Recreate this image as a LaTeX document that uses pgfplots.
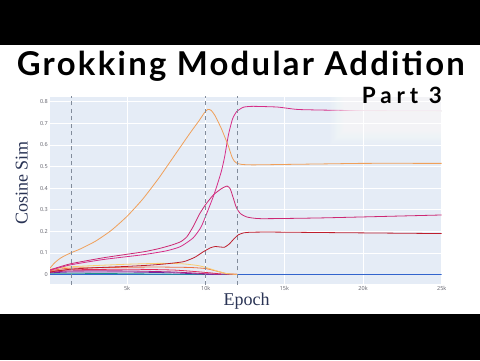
\documentclass[border=0pt]{standalone}
\usepackage{fontspec}
\usepackage{graphicx}
\setmainfont{Liberation Serif}
\newfontfamily\titlefont{Lato}[LetterSpace=7]
\newfontfamily\partfont{Lato}[LetterSpace=22]
\newfontfamily\tickfont{Open Sans}
\usepackage{pgfplots}
\pgfplotsset{compat=1.18}
\definecolor{plotbg}{RGB}{229,236,246}
\definecolor{axtitle}{RGB}{42,52,85}
\definecolor{tickgray}{RGB}{95,95,105}
\definecolor{dashgray}{RGB}{130,140,155}
\definecolor{corange}{RGB}{240,160,90}
\definecolor{cpinkA}{RGB}{214,45,135}
\definecolor{cpinkB}{RGB}{205,40,115}
\definecolor{cred}{RGB}{190,30,45}
\definecolor{cyellow}{RGB}{250,205,110}
\definecolor{corred}{RGB}{238,115,70}
\definecolor{ccrimson}{RGB}{222,45,90}
\definecolor{cmagenta}{RGB}{175,30,130}
\definecolor{cpurple}{RGB}{110,40,160}
\definecolor{cteal}{RGB}{30,150,140}
\definecolor{cblue}{RGB}{50,100,205}
\definecolor{ccyan}{RGB}{80,200,230}
\begin{document}
\begin{tikzpicture}[x=1pt,y=1pt]
\useasboundingbox (0,0) rectangle (480,360);
\fill[white] (0,0) rectangle (480,360);
\fill[black] (0,315) rectangle (480,360);
\fill[black] (0,0) rectangle (480,46);
\begin{axis}[
  at={(50pt,76pt)}, anchor=south west,
  scale only axis, width=391.7pt, height=187.3pt,
  xmin=100, xmax=25000, ymin=-0.0435, ymax=0.8236,
  axis background/.style={fill=plotbg},
  axis line style={draw=none},
  scaled x ticks=false, scaled y ticks=false,
  xtick={5000,10000,15000,20000,25000},
  xticklabels={5k,10k,15k,20k,25k},
  ytick={0,0.1,0.2,0.3,0.4,0.5,0.6,0.7,0.8},
  yticklabels={0,0.1,0.2,0.3,0.4,0.5,0.6,0.7,0.8},
  major tick length=0pt,
  grid=major, major grid style={white, line width=0.8pt},
  tick label style={font=\tickfont\fontsize{5.5}{6}\selectfont, text=tickgray},
  xticklabel style={inner sep=2.5pt},
  yticklabel style={inner sep=2pt},
  every axis plot/.append style={line width=0.8pt, smooth, tension=0.35, mark=none},
  clip=true,
]
\addplot[ccyan] coordinates {(100,0.001)(18000,0.001)};
\addplot[cblue] coordinates {(100,0.002)(25000,0.002)};
\addplot[cteal] coordinates {(100,0.006)(2000,0.006)(5000,0.004)(8000,0.002)(10000,0.001)};
\addplot[cpurple] coordinates {(100,0.008)(1400,0.012)(5000,0.012)(8000,0.008)(9500,0.003)(10500,0.001)};
\addplot[cmagenta] coordinates {(100,0.01)(1400,0.017)(5000,0.017)(8000,0.012)(10000,0.004)(11000,0.001)};
\addplot[ccrimson] coordinates {(100,0.015)(1400,0.022)(5000,0.025)(8000,0.021)(10000,0.01)(11000,0.003)(12000,0.001)};
\addplot[corred] coordinates {(100,0.018)(1400,0.03)(5000,0.034)(7000,0.035)(9000,0.033)(10000,0.028)(10700,0.016)(11300,0.005)(12000,0.001)};
\addplot[cyellow] coordinates {(100,0.025)(1400,0.036)(3000,0.042)(5000,0.048)(7000,0.052)(8500,0.05)(9500,0.042)(10100,0.031)(10700,0.017)(11300,0.005)(12000,0.001)};
\addplot[cred] coordinates {(100,0.012)(1400,0.025)(3000,0.032)(5000,0.038)(6500,0.044)(7500,0.05)(8600,0.06)(9300,0.08)(9850,0.106)(10300,0.124)(10600,0.13)(10900,0.128)(11200,0.127)(11500,0.142)(11800,0.166)(12070,0.184)(12400,0.193)(12800,0.196)(14000,0.197)(17000,0.195)(25000,0.19)};
\addplot[cpinkB] coordinates {(100,0.022)(1400,0.05)(3500,0.078)(6000,0.105)(7000,0.12)(7800,0.136)(8400,0.152)(8800,0.175)(9200,0.222)(9600,0.28)(10000,0.325)(10500,0.37)(11000,0.398)(11350,0.41)(11550,0.398)(11750,0.355)(11950,0.31)(12200,0.283)(12600,0.267)(13500,0.259)(17000,0.262)(20000,0.267)(25000,0.276)};
\addplot[cpinkA] coordinates {(100,0.02)(1400,0.045)(3500,0.07)(6000,0.092)(7500,0.11)(8400,0.13)(9200,0.17)(9700,0.22)(10100,0.29)(10500,0.365)(10750,0.42)(11000,0.48)(11200,0.545)(11440,0.646)(11700,0.72)(11970,0.755)(12400,0.775)(13000,0.779)(14500,0.776)(15200,0.77)(16000,0.764)(19000,0.76)(25000,0.758)};
\addplot[corange] coordinates {(100,0.03)(400,0.055)(800,0.078)(1400,0.1)(2000,0.118)(3000,0.155)(4000,0.205)(5000,0.27)(6000,0.35)(7000,0.445)(8000,0.55)(9000,0.655)(9600,0.715)(9900,0.748)(10130,0.765)(10350,0.76)(10600,0.735)(11000,0.675)(11250,0.63)(11440,0.595)(11650,0.548)(11800,0.527)(11970,0.516)(12300,0.51)(13000,0.508)(15000,0.51)(18000,0.513)(20000,0.515)(25000,0.515)};
\addplot[dashgray, line width=0.9pt, dash pattern=on 4pt off 3.5pt, sharp plot] coordinates {(1450,-0.05)(1450,0.83)};
\addplot[dashgray, line width=0.9pt, dash pattern=on 4pt off 3.5pt, sharp plot] coordinates {(10000,-0.05)(10000,0.83)};
\addplot[dashgray, line width=0.9pt, dash pattern=on 4pt off 3.5pt, sharp plot] coordinates {(12000,-0.05)(12000,0.83)};
\end{axis}
% white glow behind "Part 3"
\foreach \i in {0,...,29} {
  \fill[white, opacity=0.08] ({330+1.2*\i},{215+1.2*\i}) rectangle (441.7,263.3);
}
\node[anchor=base, inner sep=0pt] at (240.8,285) {\resizebox{448pt}{!}{\titlefont\bfseries\fontsize{30}{32}\selectfont Grokking Modular Addition}};
\node[anchor=base east, inner sep=0pt] at (442,256.7) {\resizebox{80pt}{!}{\partfont\bfseries\fontsize{17}{19}\selectfont Part 3}};
\node[font=\fontsize{18}{20}\selectfont, text=axtitle, rotate=90] at (21.7,177) {Cosine Sim};
\node[font=\fontsize{18}{20}\selectfont, text=axtitle] at (246.7,59.3) {Epoch};
\end{tikzpicture}
\end{document}
